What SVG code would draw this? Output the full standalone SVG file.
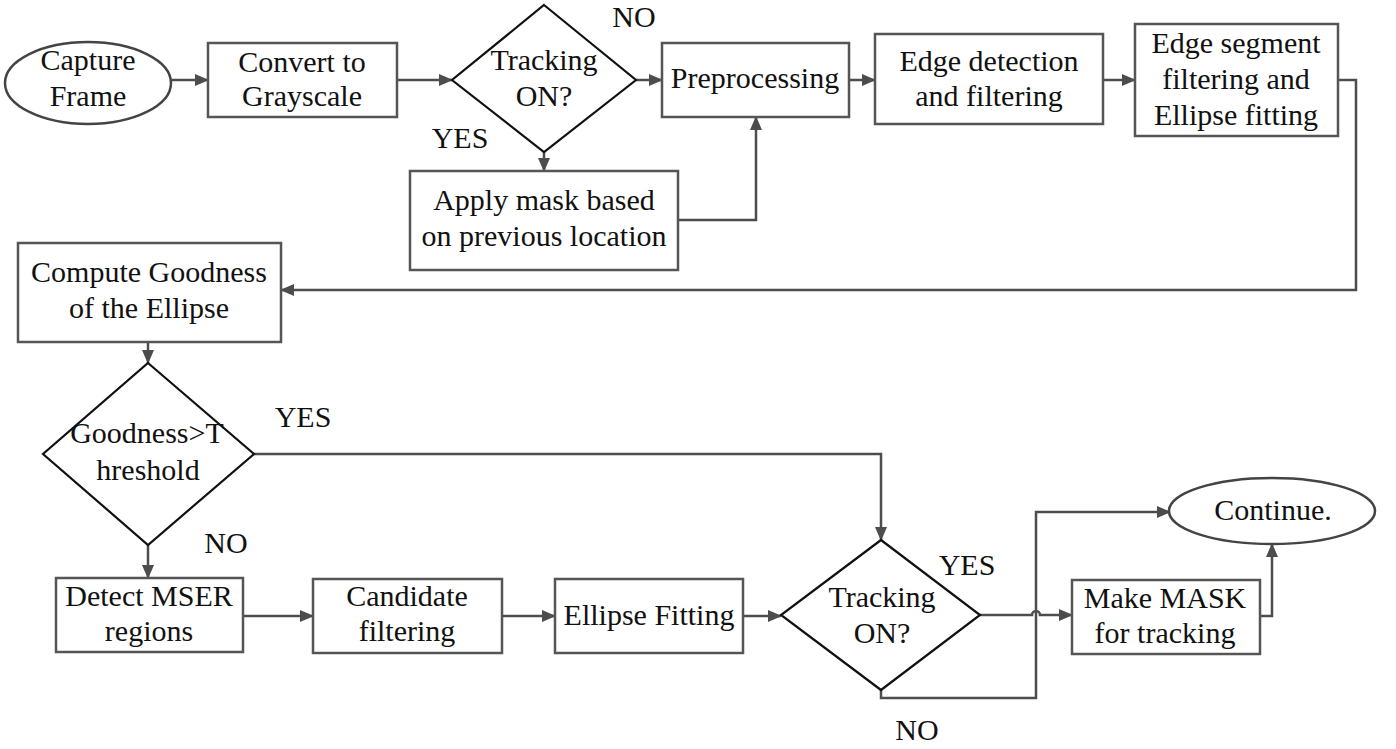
<svg xmlns="http://www.w3.org/2000/svg" width="1396" height="749" viewBox="0 0 1396 749">
<style>
.box{fill:#fff;stroke:#555;stroke-width:2.5}
.dia{fill:#fff;stroke:#111;stroke-width:2.2}
.ell{fill:#fff;stroke:#444;stroke-width:2.5}
.t{font-family:"Liberation Serif","Times New Roman",serif;font-size:30px;fill:#111;text-anchor:middle}
.c{fill:none;stroke:#4d4d4d;stroke-width:2.5}
.ca{fill:none;stroke:#4d4d4d;stroke-width:2.5;marker-end:url(#ah)}
</style>
<defs>
<marker id="ah" markerUnits="userSpaceOnUse" markerWidth="14" markerHeight="12" refX="13" refY="6" orient="auto">
<path d="M0,0 L14,6 L0,12 z" fill="#4d4d4d"/>
</marker>
</defs>
<rect width="1396" height="749" fill="#fff"/>
<g id="connectors">
<path class="ca" d="M172,80 H208"/>
<path class="ca" d="M397,80 H452"/>
<path class="ca" d="M636,80 H662"/>
<path class="ca" d="M849,80 H875"/>
<path class="ca" d="M1103,80 H1135"/>
<path class="ca" d="M544,152 V171"/>
<path class="ca" d="M678,220 H756 V117"/>
<path class="ca" d="M1338,80 H1356 V290 H281"/>
<path class="ca" d="M148,342 V363"/>
<path class="ca" d="M148,545 V578"/>
<path class="ca" d="M254,454 H881 V540"/>
<path class="ca" d="M243,616 H313"/>
<path class="ca" d="M502,616 H555"/>
<path class="ca" d="M743,616 H781"/>
<path class="ca" d="M980,615 H1032 A4,4 0 0 1 1040,615 H1072"/>
<path class="ca" d="M881,690 V698 H1036 V512 H1170"/>
<path class="ca" d="M1260,616 H1272 V544"/>
</g>
<g id="capture"><ellipse class="ell" cx="88" cy="83" rx="83" ry="41"/><text class="t" x="88" y="70">Capture</text><text class="t" x="88" y="106">Frame</text></g>
<g id="gray"><rect class="box" x="208" y="43" width="189" height="74"/><text class="t" x="302" y="72">Convert to</text><text class="t" x="302" y="106">Grayscale</text></g>
<g id="track1"><polygon class="dia" points="544,5 636,80 544,152 452,80"/><text class="t" x="544" y="70">Tracking</text><text class="t" x="544" y="106">ON?</text></g>
<g id="pre"><rect class="box" x="662" y="43" width="187" height="74"/><text class="t" x="755" y="88">Preprocessing</text></g>
<g id="edge"><rect class="box" x="875" y="34" width="228" height="90"/><text class="t" x="989" y="71">Edge detection</text><text class="t" x="989" y="106">and filtering</text></g>
<g id="seg"><rect class="box" x="1135" y="24" width="203" height="112"/><text class="t" x="1236" y="53">Edge segment</text><text class="t" x="1236" y="89">filtering and</text><text class="t" x="1236" y="125">Ellipse fitting</text></g>
<g id="mask"><rect class="box" x="410" y="171" width="268" height="99"/><text class="t" x="544" y="210">Apply mask based</text><text class="t" x="544" y="246">on previous location</text></g>
<g id="good"><rect class="box" x="18" y="243" width="263" height="99"/><text class="t" x="149" y="282">Compute Goodness</text><text class="t" x="149" y="318">of the Ellipse</text></g>
<g id="thr"><polygon class="dia" points="148,363 254,454 148,545 43,454"/><text class="t" x="147" y="443">Goodness&gt;T</text><text class="t" x="148" y="480">hreshold</text></g>
<g id="mser"><rect class="box" x="56" y="578" width="187" height="74"/><text class="t" x="149" y="606">Detect MSER</text><text class="t" x="149" y="641">regions</text></g>
<g id="cand"><rect class="box" x="313" y="579" width="189" height="74"/><text class="t" x="407" y="606">Candidate</text><text class="t" x="407" y="641">filtering</text></g>
<g id="fit"><rect class="box" x="555" y="579" width="188" height="74"/><text class="t" x="649" y="625">Ellipse Fitting</text></g>
<g id="track2"><polygon class="dia" points="881,540 980,615 881,690 781,615"/><text class="t" x="882" y="607">Tracking</text><text class="t" x="882" y="643">ON?</text></g>
<g id="mk"><rect class="box" x="1072" y="580" width="188" height="74"/><text class="t" x="1165" y="608">Make MASK</text><text class="t" x="1165" y="643">for tracking</text></g>
<g id="cont"><ellipse class="ell" cx="1272" cy="511" rx="103" ry="33"/><text class="t" x="1273" y="520">Continue.</text></g>
<g id="labels">
<text class="t" x="634" y="27">NO</text>
<text class="t" x="460" y="148">YES</text>
<text class="t" x="303" y="427">YES</text>
<text class="t" x="226" y="553">NO</text>
<text class="t" x="967" y="575">YES</text>
<text class="t" x="917" y="740">NO</text>
</g>
</svg>
